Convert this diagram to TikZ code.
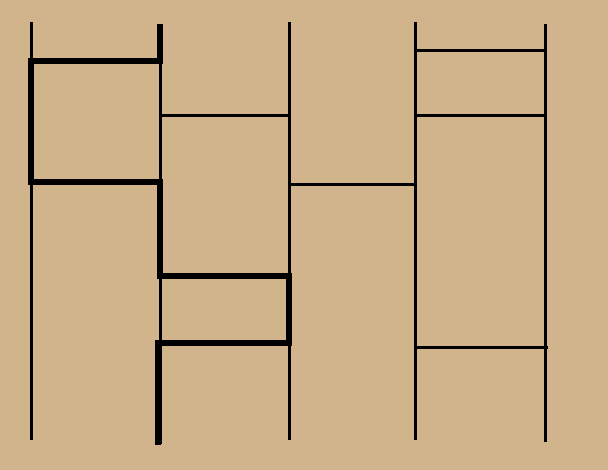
\documentclass[tikz,border=0pt]{standalone}
\usepackage{tikz}
\definecolor{board}{RGB}{210,180,140}
\begin{document}
\begin{tikzpicture}[x=1pt, y=-1pt, rail/.style={line width=3pt}, rung/.style={line width=3pt}, walk/.style={line width=5.2pt, line join=miter}]
\fill[board] (0,0) rectangle (608,470);
\useasboundingbox (0,0) rectangle (608,470);
% rails
\foreach \n/\x/\t/\b in {a/31/22/440, b/160/24/444, c/289/22/440, d/415/22/440, e/545/24/442} {
  \coordinate (\n-top) at (\x,\t);
  \coordinate (\n-bot) at (\x,\b);
  \draw[rail] (\n-top) -- (\n-bot);
}
% rung ends
\foreach \n/\x/\y in {b1/160/116, c1/289/116, c2/289/185, d2/417/185, d3/415/51, e3/547/51, d4/415/116, e4/547/116, d5/415/348, e5/548/348}
  \coordinate (\n) at (\x,\y);
\draw[rung] (b1) -- (c1);
\draw[rung] (c2) -- (d2);
\draw[rung] (d3) -- (e3);
\draw[rung] (d4) -- (e4);
\draw[rung] (d5) -- (e5);
% traced path
\foreach \n/\x/\y in {p1/160/61, p2/31/61, p3/31/182, p4/160/182, p5/160/276, p6/289/276, p7/289/343, p8/158/343, p9/158/445}
  \coordinate (\n) at (\x,\y);
\draw[walk] (b-top) -- (p1) -- (p2) -- (p3) -- (p4) -- (p5) -- (p6) -- (p7) -- (p8) -- (p9);
\end{tikzpicture}
\end{document}
